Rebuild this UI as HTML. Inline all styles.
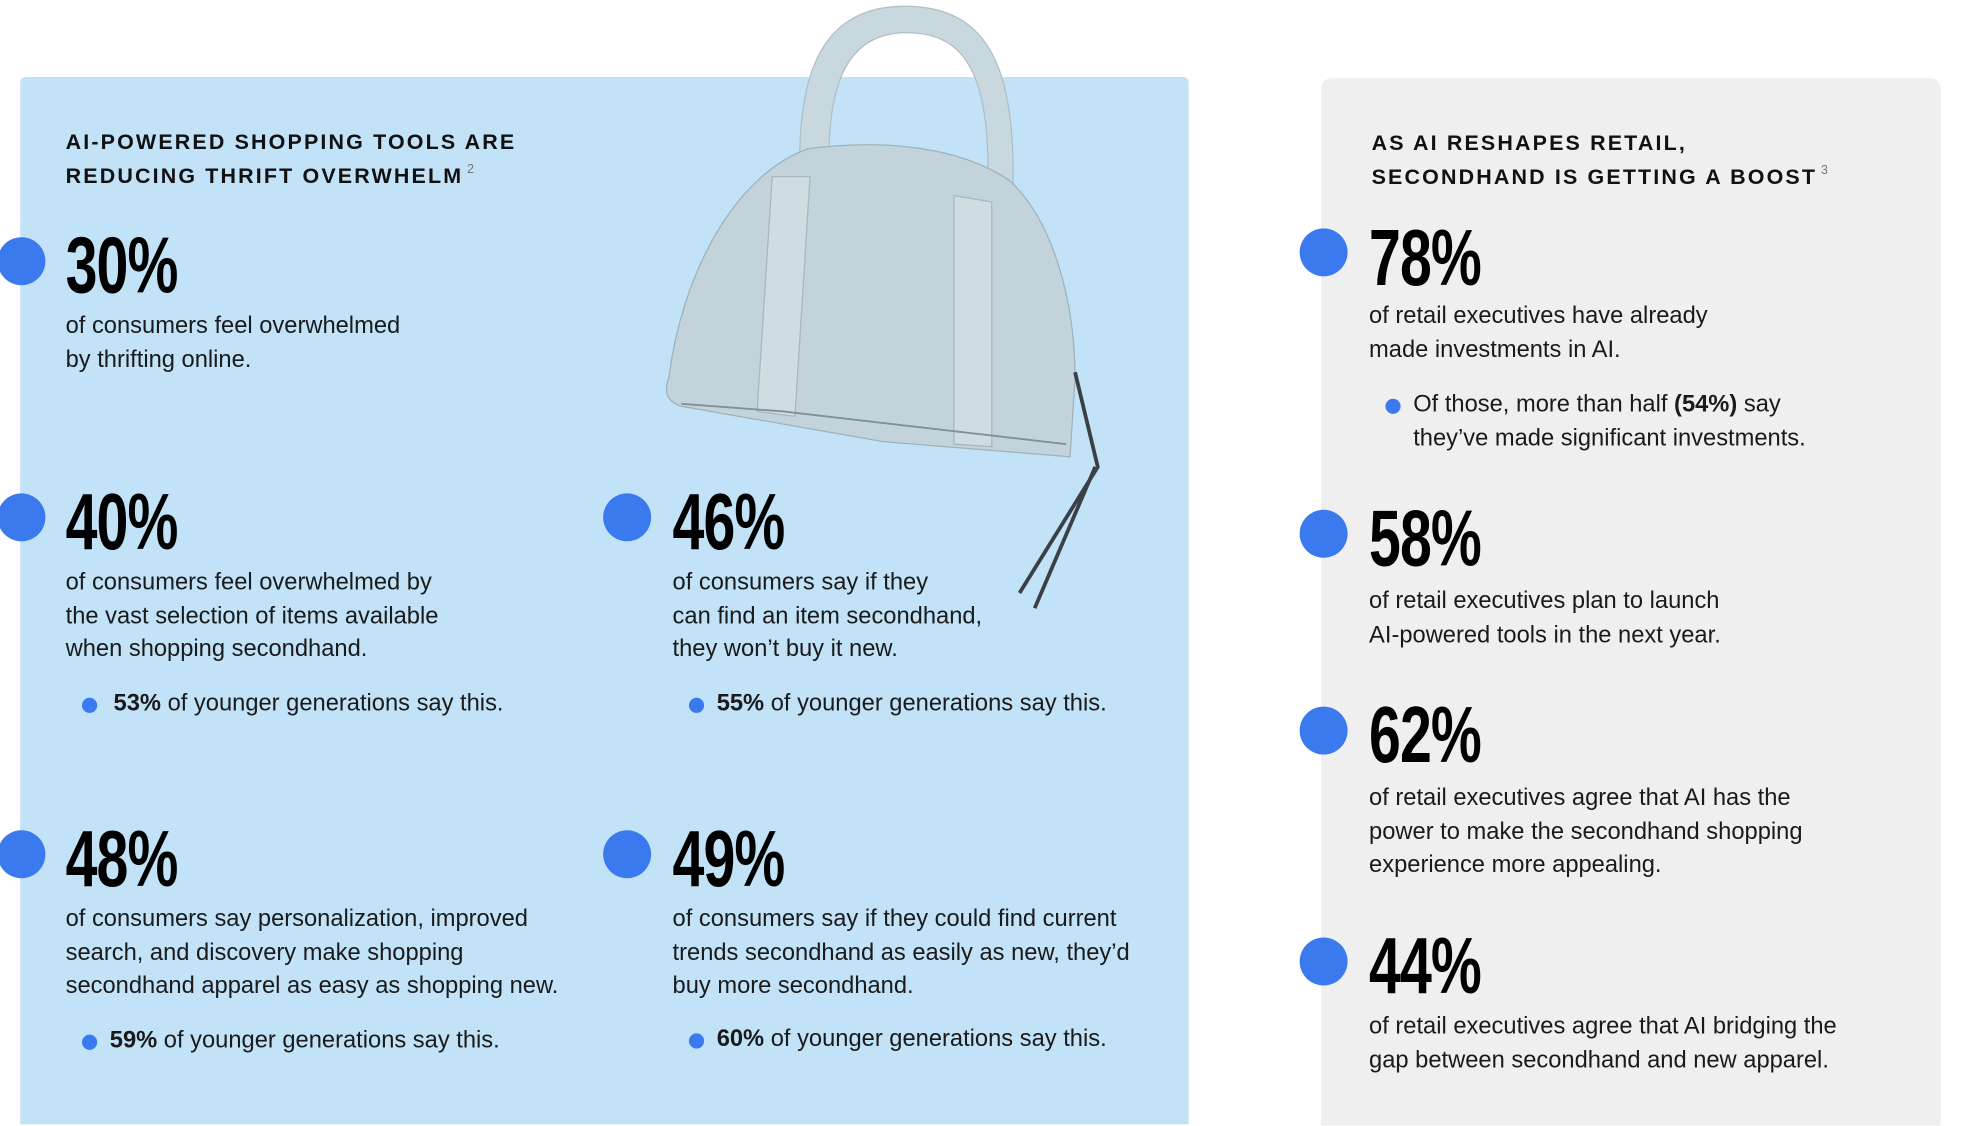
<!DOCTYPE html>
<html><head><meta charset="utf-8">
<style>
html,body{margin:0;padding:0;background:#fff;width:1978px;height:1116px;overflow:hidden}
#wrap{position:absolute;left:0;top:0;width:1568px;height:885px;transform:scale(1.2618);transform-origin:0 0;font-family:"Liberation Sans",sans-serif;color:#111}
.panel{position:absolute}
.h{position:absolute;font-weight:bold;font-size:17px;letter-spacing:1.7px;line-height:27px;color:#111;margin-top:1px}
.h sup{font-weight:normal;font-size:10px;color:#777;letter-spacing:0;vertical-align:8px;margin-left:3px;line-height:0}
.big{position:absolute;font-weight:bold;font-size:63px;line-height:62px;transform:scaleX(0.72);transform-origin:0 0;letter-spacing:-1px;color:#000}
.dot{position:absolute;width:38px;height:38px;border-radius:50%;background:#3b79ee}
.t{position:absolute;font-size:18.8px;line-height:26.5px;color:#1a1a1a;white-space:nowrap;margin-top:3px}
.sd{position:absolute;width:12px;height:12px;border-radius:50%;background:#3b79ee;margin-top:3px}
</style></head><body>
<div id="wrap">
<div class="panel" style="left:16px;top:61px;width:926px;height:830px;background:#c2e2f7;border-radius:4px 4px 0 0"></div>
<div class="panel" style="left:1047px;top:62px;width:491px;height:830px;background:#efefef;border-radius:8px 8px 0 0"></div>

<svg style="position:absolute;left:0;top:0" width="1568" height="885">
<path d="M635 160 C628 60 650 6 715 5 C785 4 808 55 802 170 L782 170 C788 62 768 24 715 26 C668 28 652 72 658 160 Z" fill="#c9d8df" stroke="#aebfc8"/>
<path d="M530 300 C540 220 580 140 640 118 C700 110 760 116 800 143 C835 175 852 240 852 300 L848 362 L700 350 L540 322 C528 318 526 310 530 300 Z" fill="#c3d3db" stroke="#9fb2bb"/>
<path d="M612 140 L642 140 L630 330 L600 326 Z" fill="#cfdde3" stroke="#a6b7bf"/>
<path d="M756 155 L786 160 L786 354 L756 352 Z" fill="#cfdde3" stroke="#a6b7bf"/>
<path d="M540 320 L620 326 L845 352" fill="none" stroke="#7f9099" stroke-width="1.5"/>
<path d="M852 295 L870 370 L808 470 M868 370 L820 482" stroke="#3a4045" stroke-width="3" fill="none"/>
</svg>

<div class="h" style="left:52px;top:98px">AI-POWERED SHOPPING TOOLS ARE<br>REDUCING THRIFT OVERWHELM<sup>2</sup></div>
<div class="h" style="left:1087px;top:99px">AS AI RESHAPES RETAIL,<br>SECONDHAND IS GETTING A BOOST<sup>3</sup></div>

<div class="dot" style="left:-2px;top:188px"></div>
<div class="big" style="left:52px;top:180px">30%</div>
<div class="t" style="left:52px;top:242px">of consumers feel overwhelmed<br>by thrifting online.</div>

<div class="dot" style="left:-2px;top:391px"></div>
<div class="big" style="left:52px;top:383px">40%</div>
<div class="t" style="left:52px;top:445px">of consumers feel overwhelmed by<br>the vast selection of items available<br>when shopping secondhand.</div>
<div class="sd" style="left:65px;top:550px"></div>
<div class="t" style="left:90px;top:541px"><b>53%</b> of younger generations say this.</div>

<div class="dot" style="left:478px;top:391px"></div>
<div class="big" style="left:533px;top:383px">46%</div>
<div class="t" style="left:533px;top:445px">of consumers say if they<br>can find an item secondhand,<br>they won’t buy it new.</div>
<div class="sd" style="left:546px;top:550px"></div>
<div class="t" style="left:568px;top:541px"><b>55%</b> of younger generations say this.</div>

<div class="dot" style="left:-2px;top:658px"></div>
<div class="big" style="left:52px;top:650px">48%</div>
<div class="t" style="left:52px;top:712px">of consumers say personalization, improved<br>search, and discovery make shopping<br>secondhand apparel as easy as shopping new.</div>
<div class="sd" style="left:65px;top:817px"></div>
<div class="t" style="left:87px;top:808px"><b>59%</b> of younger generations say this.</div>

<div class="dot" style="left:478px;top:658px"></div>
<div class="big" style="left:533px;top:650px">49%</div>
<div class="t" style="left:533px;top:712px">of consumers say if they could find current<br>trends secondhand as easily as new, they’d<br>buy more secondhand.</div>
<div class="sd" style="left:546px;top:816px"></div>
<div class="t" style="left:568px;top:807px"><b>60%</b> of younger generations say this.</div>

<div class="dot" style="left:1030px;top:181px"></div>
<div class="big" style="left:1085px;top:174px">78%</div>
<div class="t" style="left:1085px;top:234px">of retail executives have already<br>made investments in AI.</div>
<div class="sd" style="left:1098px;top:313px"></div>
<div class="t" style="left:1120px;top:304px">Of those, more than half <b>(54%)</b> say<br>they’ve made significant investments.</div>

<div class="dot" style="left:1030px;top:404px"></div>
<div class="big" style="left:1085px;top:396px">58%</div>
<div class="t" style="left:1085px;top:460px">of retail executives plan to launch<br>AI-powered tools in the next year.</div>

<div class="dot" style="left:1030px;top:560px"></div>
<div class="big" style="left:1085px;top:552px">62%</div>
<div class="t" style="left:1085px;top:616px">of retail executives agree that AI has the<br>power to make the secondhand shopping<br>experience more appealing.</div>

<div class="dot" style="left:1030px;top:743px"></div>
<div class="big" style="left:1085px;top:735px">44%</div>
<div class="t" style="left:1085px;top:797px">of retail executives agree that AI bridging the<br>gap between secondhand and new apparel.</div>
</div>
</body></html>
